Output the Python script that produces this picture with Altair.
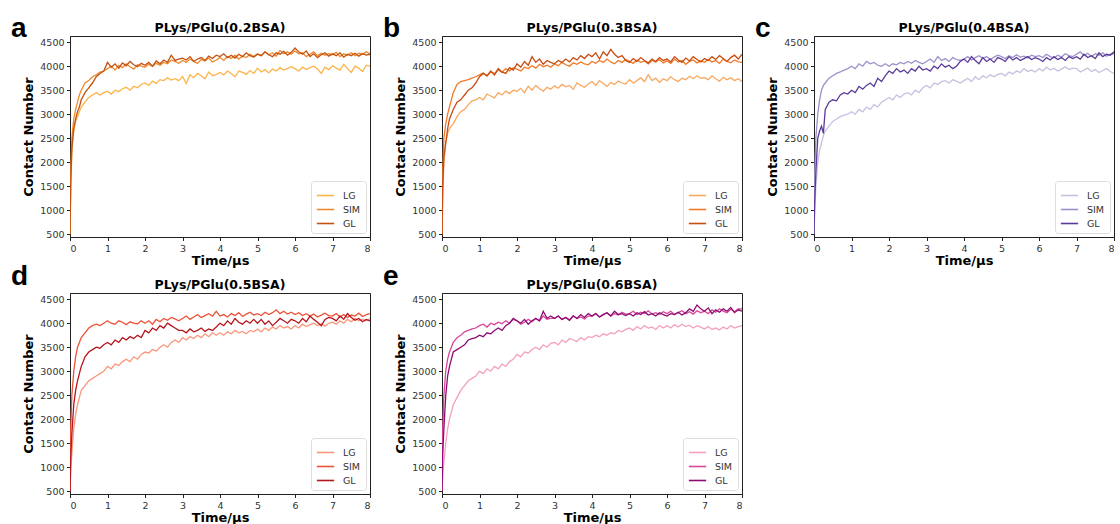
import altair as alt
import pandas as pd

TIME = [0, 0.02, 0.05, 0.1, 0.15, 0.2, 0.25, 0.3, 0.4, 0.5, 0.6, 0.7, 0.8, 0.9,
        1.0, 1.1, 1.2, 1.3, 1.4, 1.5, 1.6, 1.7, 1.8, 1.9,
        2.0, 2.1, 2.2, 2.3, 2.4, 2.5, 2.6, 2.7, 2.8, 2.9,
        3.0, 3.1, 3.2, 3.3, 3.4, 3.5, 3.6, 3.7, 3.8, 3.9,
        4.0, 4.1, 4.2, 4.3, 4.4, 4.5, 4.6, 4.7, 4.8, 4.9,
        5.0, 5.1, 5.2, 5.3, 5.4, 5.5, 5.6, 5.7, 5.8, 5.9,
        6.0, 6.1, 6.2, 6.3, 6.4, 6.5, 6.6, 6.7, 6.8, 6.9,
        7.0, 7.1, 7.2, 7.3, 7.4, 7.5, 7.6, 7.7, 7.8, 7.9,
        8.0]

SERIES_NAMES = ["LG", "SIM", "GL"]

# ---------- panel a : PLys/PGlu(0.2BSA)
A_LG = [500, 1500, 2200, 2650, 2850, 2950, 3050, 3150, 3250, 3350, 3400, 3450, 3400, 3450,
        3480, 3420, 3500, 3470, 3530, 3560, 3500, 3580, 3550, 3620,
        3650, 3600, 3690, 3640, 3720, 3700, 3760, 3710, 3740, 3700,
        3790, 3640, 3820, 3760, 3850, 3800, 3740, 3880, 3800, 3830,
        3870, 3820, 3900, 3850, 3780, 3900, 3870, 3830, 3910, 3850,
        3960, 3880, 3930, 3860, 3940, 3900, 3970, 3920, 3950, 3990,
        3950, 3900, 3980, 3930, 3970, 4000, 3940, 3850, 3980, 3930,
        4010, 3960, 3920, 4040, 3950, 3870, 4000, 3960, 3890, 4020,
        4000]
A_SIM = [500, 1800, 2500, 2900, 3100, 3250, 3400, 3500, 3650, 3700, 3780, 3820, 3880, 3900,
         3950, 4000, 3920, 4020, 3970, 4050, 3990, 3940, 4030, 4000,
         3980, 4040, 4000, 4060, 4020, 4080, 4050, 4130, 4100, 4060,
         4120, 4080, 4150, 4100, 4060, 4140, 4110, 4170, 4090, 4130,
         4180, 4120, 4200, 4160, 4230, 4150, 4210, 4180, 4250, 4200,
         4260, 4220, 4300, 4240, 4280, 4210, 4330, 4260, 4300, 4250,
         4320, 4260, 4280, 4200, 4250, 4300, 4220, 4270, 4230, 4260,
         4240, 4290, 4200, 4260, 4230, 4280, 4220, 4270, 4250, 4300,
         4260]
A_GL = [500, 1600, 2300, 2700, 2900, 3050, 3150, 3300, 3450, 3550, 3650, 3780, 3850, 3900,
        4080, 3980, 4050, 3960, 4070, 4010, 4100, 4030, 3990, 4060,
        4020, 4080, 4000, 4110, 4050, 4130, 4080, 4230, 4120, 4150,
        4170, 4130, 4200, 4100, 4150, 4180, 4120, 4210, 4160, 4230,
        4200, 4260, 4180, 4230, 4170, 4250, 4200, 4280, 4220, 4190,
        4250, 4220, 4300, 4240, 4200, 4280, 4250, 4310, 4230, 4290,
        4380, 4300, 4250, 4320, 4200, 4260, 4180, 4240, 4280, 4210,
        4260, 4220, 4280, 4190, 4250, 4220, 4270, 4210, 4260, 4230,
        4250]

# ---------- panel b : PLys/PGlu(0.3BSA)
B_LG = [500, 1400, 2000, 2400, 2600, 2700, 2750, 2800, 2950, 3050, 3100, 3200, 3280, 3300,
        3350, 3300, 3420, 3380, 3340, 3450, 3400, 3480, 3430, 3500,
        3480, 3540, 3450, 3580, 3500, 3600, 3530, 3480, 3560, 3520,
        3590, 3540, 3620, 3570, 3600, 3520, 3650, 3600, 3560, 3630,
        3680, 3600, 3700, 3640, 3580, 3660, 3620, 3690, 3650, 3630,
        3720, 3650, 3700, 3760, 3680, 3820, 3700, 3750, 3660, 3740,
        3700, 3780, 3720, 3680, 3750, 3720, 3790, 3740, 3800, 3750,
        3760, 3720, 3800, 3740, 3690, 3770, 3720, 3760, 3700, 3740,
        3680]
B_SIM = [500, 1800, 2500, 2800, 3000, 3150, 3300, 3450, 3620, 3680, 3700, 3720, 3750, 3780,
         3820, 3860, 3800, 3880, 3850, 3920, 3870, 3950, 3900, 3970,
         3940, 3900, 3980, 3950, 4010, 3960, 4040, 3990, 4020, 3980,
         4050, 4010, 4080, 4030, 4000, 4070, 4040, 4090, 4050, 4030,
         4100, 4060, 4120, 4080, 4150, 4090, 4050, 4120, 4080, 4140,
         4100, 4060, 4130, 4080, 4110, 4050, 4120, 4090, 4140, 4070,
         4110, 4060, 4150, 4090, 4120, 4040, 4100, 4130, 4070, 4110,
         4080, 4140, 4090, 4120, 4060, 4150, 4100, 4070, 4130, 4090,
         4080]
B_GL = [500, 1500, 2100, 2400, 2700, 2900, 3000, 3100, 3250, 3300, 3400, 3500, 3550, 3650,
        3780, 3850, 3800, 3900, 3820, 3950, 3880, 3850, 3970, 3920,
        4050, 3980, 4100, 4020, 4200, 4080, 4150, 4040, 4120, 4080,
        4050, 4120, 4080, 4150, 4090, 4180, 4130, 4220, 4160, 4250,
        4200, 4280, 4150, 4300, 4220, 4350, 4250, 4180, 4220, 4120,
        4080, 4160, 4100, 4180, 4120, 4070, 4150, 4100, 4180, 4120,
        4150, 4090, 4200, 4130, 4080, 4170, 4110, 4200, 4140, 4090,
        4160, 4120, 4200, 4140, 4220, 4160, 4100, 4180, 4230, 4150,
        4250]

# ---------- panel c : PLys/PGlu(0.4BSA)
C_LG = [500, 1000, 1500, 2000, 2250, 2400, 2550, 2650, 2750, 2850, 2900, 2950, 2980, 3000,
        3050, 3000, 3100, 3050, 3150, 3100, 3200, 3150, 3250, 3300,
        3350, 3300, 3400, 3350, 3420, 3450, 3400, 3500, 3450, 3550,
        3600, 3550, 3650, 3620, 3680, 3700, 3650, 3720, 3690, 3650,
        3700, 3750, 3680, 3780, 3720, 3800, 3760, 3820, 3780, 3830,
        3850, 3800, 3880, 3840, 3900, 3870, 3950, 3890, 3920, 3880,
        3950, 3900, 3980, 3920, 3960, 3900, 3940, 3990, 3930, 3960,
        3950, 3880, 3920, 3960, 3890, 3930, 3870, 3910, 3950, 3890,
        3850]
C_SIM = [500, 1800, 2500, 3000, 3300, 3500, 3600, 3650, 3750, 3800, 3850, 3880, 3920, 3950,
         4000, 3950, 4050, 4000, 4100, 4050, 4080, 4020, 4000, 4050,
         4000, 4050, 4030, 4080, 4050, 4100, 4060, 4120, 4080, 4050,
         4100, 4150, 4080, 4200, 4120, 4160, 4100, 4180, 4140, 4120,
         4150, 4200, 4130, 4180, 4220, 4160, 4200, 4140, 4190, 4230,
         4200, 4160, 4220, 4180, 4240, 4190, 4210, 4170, 4230, 4200,
         4220, 4180, 4250, 4200, 4170, 4230, 4190, 4260, 4220, 4200,
         4250, 4300, 4220, 4270, 4200, 4260, 4230, 4280, 4210, 4250,
         4260]
C_GL = [500, 1200, 1800, 2500, 2650, 2750, 2600, 3100, 3250, 3300, 3280, 3400, 3450, 3420,
        3500, 3450, 3580, 3520, 3600, 3650, 3580, 3750, 3680, 3800,
        3900, 3850, 3950, 3880, 3920, 3850, 3950, 3900, 4000, 3920,
        3950, 3900, 4000, 3950, 4050, 3980, 4020, 3950, 4000, 4100,
        4150, 4080, 4200, 4120, 4050, 4180, 4100, 4150, 4080, 4180,
        4150, 4100, 4200, 4130, 4180, 4120, 4160, 4200, 4140, 4180,
        4150, 4100, 4180, 4130, 4200, 4140, 4180, 4120, 4200, 4160,
        4200, 4150, 4250, 4180, 4220, 4160, 4280, 4200, 4250, 4230,
        4300]

# ---------- panel d : PLys/PGlu(0.5BSA)
D_LG = [500, 900, 1300, 1800, 2100, 2300, 2450, 2600, 2700, 2800, 2850, 2900, 2950, 3000,
        3100, 3050, 3150, 3120, 3200, 3250, 3200, 3300, 3250, 3350,
        3400, 3380, 3450, 3420, 3500, 3550, 3500, 3600, 3650, 3600,
        3700, 3650, 3720, 3680, 3750, 3700, 3780, 3720, 3800, 3750,
        3800, 3750, 3820, 3780, 3850, 3800, 3830, 3780, 3850, 3820,
        3880, 3820, 3900, 3850, 3920, 3880, 3950, 3900, 3930, 3880,
        3950, 3900, 3980, 3930, 3970, 4000, 3950, 3990, 3940, 4000,
        4020, 3980, 4050, 4000, 4080, 4030, 4100, 4050, 4080, 4050,
        4100]
D_SIM = [500, 1800, 2500, 3000, 3300, 3500, 3600, 3700, 3800, 3900, 3950, 3980, 3950, 4000,
         4050, 4000, 3980, 4050, 4020, 3970, 4030, 4000, 3990, 4050,
         4000, 4050, 3980, 4080, 4030, 4100, 4060, 4120, 4090, 4050,
         4100, 4150, 4080, 4130, 4180, 4120, 4160, 4200, 4150, 4250,
         4150, 4180, 4130, 4200, 4160, 4220, 4140, 4190, 4230, 4170,
         4200, 4160, 4230, 4180, 4220, 4280, 4200, 4250, 4190, 4230,
         4180, 4220, 4160, 4200, 4150, 4190, 4130, 4170, 4210, 4160,
         4150, 4200, 4130, 4180, 4120, 4170, 4150, 4210, 4140, 4180,
         4200]
D_GL = [500, 1200, 1700, 2300, 2600, 2800, 2950, 3100, 3300, 3400, 3450, 3500, 3480, 3550,
        3600, 3550, 3650, 3600, 3700, 3650, 3720, 3680, 3750, 3700,
        3850, 3800, 3900, 3850, 3950, 3900, 4000, 3950, 3900, 3850,
        3850, 3800, 3880, 3820, 3850, 3900, 3830, 3880, 3850, 3920,
        4000, 3950, 4050, 3980, 4100, 4020, 3980, 4050, 4000, 4080,
        4000, 4080, 3980, 4050, 3950, 4020, 4100, 4050, 4000, 4080,
        4050, 4000, 4100, 4030, 4150, 4080, 4020, 3950, 4080, 4120,
        4100, 4050, 4150, 4080, 4200, 4120, 4060, 4100, 4030, 4080,
        4050]

# ---------- panel e : PLys/PGlu(0.6BSA)
E_LG = [500, 800, 1100, 1500, 1800, 2000, 2150, 2300, 2450, 2600, 2700, 2800, 2850, 2900,
        3000, 2950, 3050, 3000, 3100, 3050, 3150, 3100, 3200, 3250,
        3350, 3300, 3400, 3380, 3450, 3500, 3450, 3550, 3500, 3580,
        3600, 3550, 3650, 3600, 3680, 3650, 3620, 3700, 3650, 3720,
        3700, 3750, 3720, 3780, 3750, 3800, 3780, 3850, 3820, 3870,
        3900, 3850, 3930, 3880, 3950, 3900, 3920, 3870, 3950, 3900,
        3950, 3900, 3970, 3920, 3980, 3930, 3960, 3900, 3950, 3920,
        3880, 3930, 3870, 3900, 3860, 3920, 3880, 3950, 3900, 3930,
        3950]
E_SIM = [500, 1800, 2500, 3000, 3250, 3400, 3500, 3600, 3700, 3750, 3820, 3850, 3880, 3900,
         3950, 3980, 3920, 4000, 3970, 4020, 3990, 4050, 4000, 4080,
         4050, 3980, 4020, 4080, 4030, 4100, 4050, 4150, 4080, 4100,
         4100, 4150, 4080, 4120, 4070, 4160, 4100, 4130, 4090, 4150,
         4150, 4200, 4130, 4180, 4220, 4150, 4200, 4170, 4230, 4190,
         4200, 4250, 4180, 4230, 4200, 4260, 4190, 4220, 4180, 4240,
         4200, 4250, 4180, 4220, 4260, 4200, 4240, 4190, 4260, 4220,
         4250, 4200, 4280, 4230, 4300, 4250, 4220, 4290, 4240, 4300,
         4300]
E_GL = [500, 1300, 1800, 2500, 2900, 3100, 3250, 3400, 3450, 3500, 3550, 3650, 3680, 3700,
        3750, 3720, 3800, 3780, 3850, 3900, 3850, 3950, 4000, 4100,
        4050, 4000, 4080, 3980, 4050, 4100, 4050, 4250, 4100, 4150,
        4100, 4150, 4080, 4120, 4060, 4150, 4100, 4180, 4120, 4200,
        4150, 4200, 4130, 4180, 4220, 4150, 4250, 4180, 4200, 4160,
        4200, 4150, 4220, 4180, 4240, 4170, 4200, 4150, 4220, 4180,
        4150, 4200, 4180, 4230, 4170, 4220, 4300, 4250, 4380, 4300,
        4250, 4320, 4200, 4280, 4230, 4300, 4250, 4330, 4220, 4280,
        4250]

PANELS = [
    ("a", "PLys/PGlu(0.2BSA)", A_LG, A_SIM, A_GL, ["#fbb448", "#ee8a2c", "#c4520e"]),
    ("b", "PLys/PGlu(0.3BSA)", B_LG, B_SIM, B_GL, ["#f8a860", "#f07a28", "#c84c10"]),
    ("c", "PLys/PGlu(0.4BSA)", C_LG, C_SIM, C_GL, ["#c6c1e0", "#9c91c8", "#5b3b9a"]),
    ("d", "PLys/PGlu(0.5BSA)", D_LG, D_SIM, D_GL, ["#f9977c", "#ec5338", "#b5171e"]),
    ("e", "PLys/PGlu(0.6BSA)", E_LG, E_SIM, E_GL, ["#f4a0c0", "#d9479a", "#8e0b74"]),
]

Y_TICKS = [500, 1000, 1500, 2000, 2500, 3000, 3500, 4000, 4500]
X_TICKS = [0, 1, 2, 3, 4, 5, 6, 7, 8]
W, H = 300, 201


def panel(letter, title, lg, sim, gl, colors, row):
    rows = []
    for name, vals in zip(SERIES_NAMES, (lg, sim, gl)):
        assert len(vals) == len(TIME), (letter, name, len(vals))
        rows += [{"t": t, "v": v, "s": name} for t, v in zip(TIME, vals)]
    df = pd.DataFrame(rows)
    lines = alt.Chart(df).mark_line(strokeWidth=1.3, clip=True).encode(
        x=alt.X("t:Q", scale=alt.Scale(domain=[0, 8], nice=False, zero=False),
                axis=alt.Axis(title="Time/μs", values=X_TICKS, format="d")),
        y=alt.Y("v:Q", scale=alt.Scale(domain=[440, 4630], nice=False, zero=False),
                axis=alt.Axis(title="Contact Number", values=Y_TICKS, format="d")),
        color=alt.Color("s:N", sort=SERIES_NAMES,
                        scale=alt.Scale(domain=SERIES_NAMES, range=colors),
                        legend=alt.Legend(title=None, orient="bottom-right", offset=4,
                                          symbolType="stroke", symbolStrokeWidth=1.6,
                                          symbolSize=300, labelFontSize=9.5,
                                          labelFont="DejaVu Sans", labelColor="#333",
                                          labelOffset=8, strokeColor="#dddddd",
                                          fillColor="white", padding=5, cornerRadius=3,
                                          rowPadding=-3)),
    )
    letter_t = alt.Chart(pd.DataFrame({"l": [letter]})).mark_text(
        font="Liberation Sans", fontSize=28, fontWeight="bold", align="left",
        baseline="alphabetic", color="black",
    ).encode(x=alt.value(-59), y=alt.value(1 if row == 0 else -8), text="l:N")
    title_t = alt.Chart(pd.DataFrame({"l": [title]})).mark_text(
        font="DejaVu Sans", fontSize=12.5, fontWeight="bold", align="center",
        baseline="alphabetic", color="black",
    ).encode(x=alt.value(W / 2), y=alt.value(-4), text="l:N")
    return alt.layer(lines, letter_t, title_t).properties(width=W, height=H)


charts = [panel(p[0], p[1], p[2], p[3], p[4], p[5], 0 if i < 3 else 1)
          for i, p in enumerate(PANELS)]

chart = alt.concat(*charts, columns=3, spacing={"row": 56, "column": 72},
                   bounds="flush").resolve_scale(color="independent").properties(
    padding={"left": 10, "top": 14, "right": 0, "bottom": 0}
).configure_view(stroke="#222", strokeWidth=1).configure_axis(
    labelFont="DejaVu Sans", labelFontSize=9.5, labelColor="#333",
    titleFont="DejaVu Sans", titleFontSize=13, titleFontWeight="bold", titleColor="black",
    domainColor="#222", tickColor="#222", tickSize=3.5, labelPadding=2.5, grid=False,
).configure_axisX(titlePadding=2).configure_axisY(titlePadding=4)

chart.save("out.html", embed_options={"renderer": "svg", "actions": False})
